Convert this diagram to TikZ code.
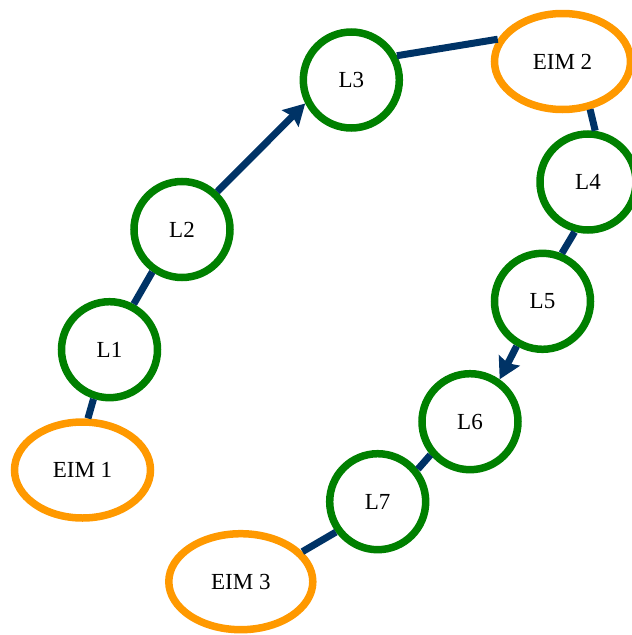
\documentclass[tikz,border=0pt]{standalone}
\usepackage{fontspec}
\setmainfont{Liberation Serif}
\usetikzlibrary{shapes.geometric,arrows.meta}
\definecolor{edgec}{RGB}{0,51,102}
\definecolor{lgreen}{RGB}{0,128,0}
\definecolor{eorange}{RGB}{255,153,0}
\tikzset{
  lnode/.style={circle,draw=lgreen,line width=7.5pt,minimum size=96pt,inner sep=0pt,fill=white,font=\fontsize{23}{24}\selectfont},
  enode/.style={ellipse,draw=eorange,line width=7.5pt,minimum width=136pt,minimum height=96pt,inner sep=0pt,fill=white,font=\fontsize{23}{24}\selectfont},
  link/.style={draw=edgec,line width=7pt},
  arr/.style={link,-{Stealth[length=21pt,width=23pt,inset=3pt]}}
}
\begin{document}
\begin{tikzpicture}[x=1pt,y=-1pt]
\useasboundingbox (0,0) rectangle (632,635);
\node[enode] (E1) at (82.5,470) {EIM 1};
\node[lnode] (L1) at (109.5,349.7) {L1};
\node[lnode] (L2) at (182,229.5) {L2};
\node[lnode] (L3) at (351.3,80) {L3};
\node[enode] (E2) at (562.5,61.5) {EIM 2};
\node[lnode] (L4) at (588,182) {L4};
\node[lnode] (L5) at (542.5,301.3) {L5};
\node[lnode] (L6) at (470,421.7) {L6};
\node[lnode] (L7) at (377.7,501.7) {L7};
\node[enode,minimum width=144pt] (E3) at (240.8,581.7) {EIM 3};
\draw[link] (E1.84) -- (L1.252);
\draw[link] (L1.62) -- (L2.235);
\draw[arr] (L2.47) -- (L3.207);
\draw[link] (L3.28) -- (E2.161);
\draw[link] (E2.-60) -- (L4.82);
\draw[link] (L4.-105) -- (L5.68);
\draw[arr] (L5.240) -- (L6.55);
\draw[link] (L6.220) -- (L7.39);
\draw[link] (L7.216) -- (E3.26);
\end{tikzpicture}
\end{document}
